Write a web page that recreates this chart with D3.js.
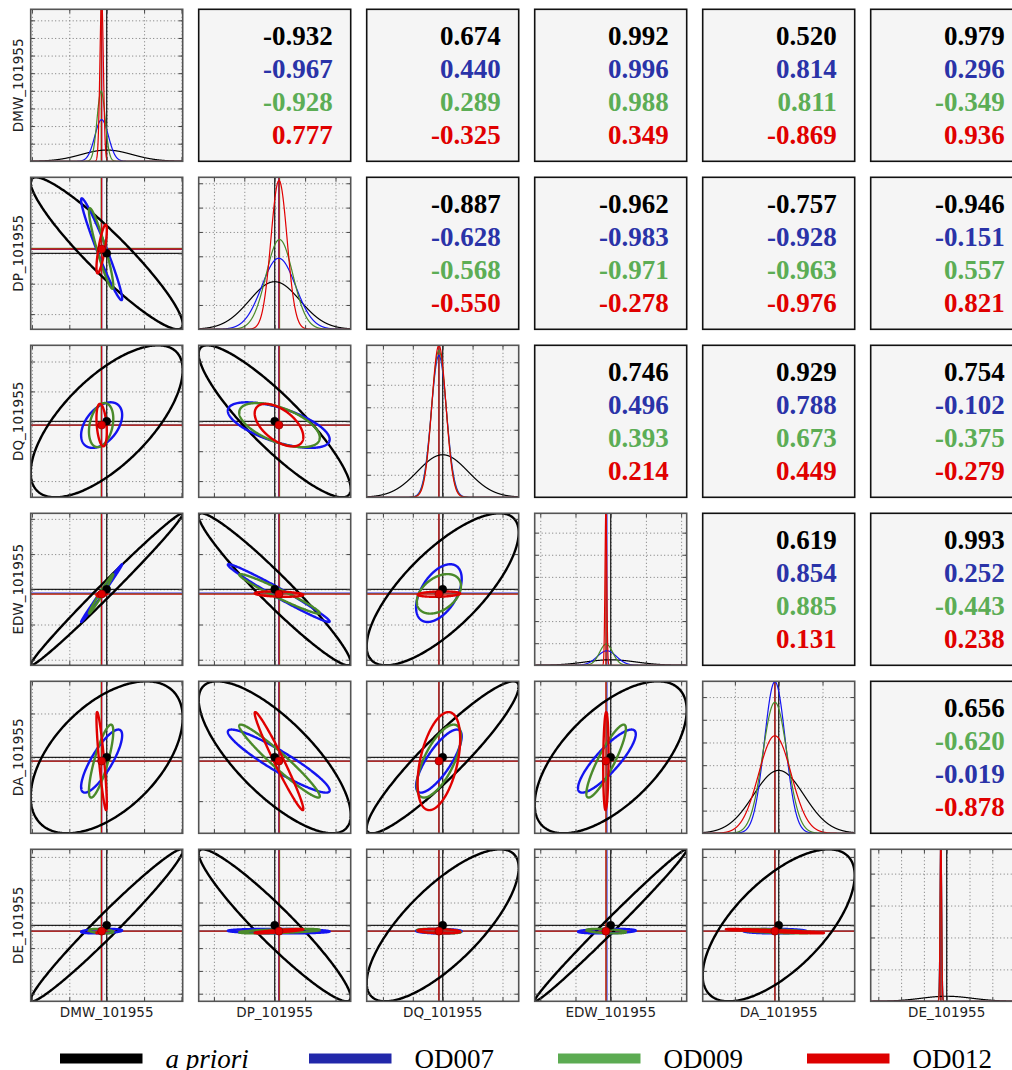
<!DOCTYPE html>
<html>
<head>
<meta charset="utf-8">
<script src="https://cdn.jsdelivr.net/npm/d3@7/dist/d3.min.js"></script>
<style>
    body { margin: 0; background: #fff; }
    .axis-label { font-family: "DejaVu Sans", sans-serif; font-size: 13.5px; fill: #222; }
    .corr-text { font-family: "Liberation Serif", serif; font-size: 27px; font-weight: bold; }
    .legend-text { font-family: "Liberation Serif", serif; font-size: 27px; fill: #000; }
</style>
</head>
<body>
<svg id="chart" width="1012" height="1070"></svg>
<script>
// Parameters and series
const params = ['DMW_101955', 'DP_101955', 'DQ_101955', 'EDW_101955', 'DA_101955', 'DE_101955'];
const seriesNames = ['a priori', 'OD007', 'OD009', 'OD012'];
const curveColors = ['#000000', '#1414f0', '#4a8a2a', '#e00000'];
const textColors = ['#000000', '#2a33a8', '#5cad55', '#e00000'];
const legendColors = ['#000000', '#2228aa', '#5cab52', '#dd0000'];
const showDot = [true, false, false, true];

// Means, in units of the a priori sigma (a priori centred on 0)
const meanApriori = [0, 0, 0, 0, 0, 0];
const meanOD007 = [-0.20, 0.16, -0.15, -0.15, -0.15, -0.23];
const meanOD009 = [-0.22, 0.19, -0.15, -0.18, -0.15, -0.23];
const meanOD012 = [-0.20, 0.17, -0.15, -0.19, -0.15, -0.23];

// Sigmas, in units of the a priori sigma
const sigmaApriori = [1, 1, 1, 1, 1, 1];
const sigmaOD007 = [0.27, 0.67, 0.30, 0.38, 0.415, 0.030];
const sigmaOD009 = [0.16, 0.53, 0.29, 0.26, 0.48, 0.030];
const sigmaOD012 = [0.068, 0.32, 0.28, 0.035, 0.645, 0.028];

// Correlations, pairs ordered (0,1),(0,2),...,(0,5),(1,2),...,(4,5)
const corrApriori = [-0.932, 0.674, 0.992, 0.520, 0.979, -0.887, -0.962, -0.757, -0.946, 0.746, 0.929, 0.754, 0.619, 0.993, 0.656];
const corrOD007 = [-0.967, 0.440, 0.996, 0.814, 0.296, -0.628, -0.983, -0.928, -0.151, 0.496, 0.788, -0.102, 0.854, 0.252, -0.019];
const corrOD009 = [-0.928, 0.289, 0.988, 0.811, -0.349, -0.568, -0.971, -0.963, 0.557, 0.393, 0.673, -0.375, 0.885, -0.443, -0.620];
const corrOD012 = [0.777, -0.325, 0.349, -0.869, 0.936, -0.550, -0.278, -0.976, 0.821, 0.214, 0.449, -0.279, 0.131, 0.238, -0.878];

// The DA/DE cell lists OD009 before OD007
const labelOrderDefault = [0, 1, 2, 3];
const labelOrderDAxDE = [0, 2, 1, 3];

// Tick spacing per parameter (a priori sigma units), diagonal y ranges
const tickStep = [1.476, 1.2, 1.18, 1.39, 1.73, 0.9];
const diagYMax = [5.4, 1.274, 1.425, 11, 0.964, 12];
const diagYStep = [0.626, 0.204, 0.211, 1.6, 0.144, 2.52];

// Layout
const size = 152, step = 168, left0 = 30.7, top0 = 9.3;
const nSigma = 3;

const means = [meanApriori, meanOD007, meanOD009, meanOD012];
const sigmas = [sigmaApriori, sigmaOD007, sigmaOD009, sigmaOD012];
const corrs = [corrApriori, corrOD007, corrOD009, corrOD012];

const pairIndex = {};
let k = 0;
params.forEach((_, i) => params.forEach((_, j) => { if (j > i) pairIndex[i + '-' + j] = k++; }));

const svg = d3.select('#chart');
const defs = svg.append('defs');

function ticksFor(s, max) {
    return d3.range(Math.ceil(-max / s), Math.floor(max / s) + 1)
        .map(v => v * s)
        .filter(v => Math.abs(v) < max * 0.99);
}

// Background, grid and clip for a plot panel
function panelBase(g, id, x, y, xt, yt) {
    defs.append('clipPath').attr('id', id)
        .append('rect').attr('width', size).attr('height', size);

    g.append('rect').attr('width', size).attr('height', size).attr('fill', '#f5f5f5');

    const grid = g.append('g').attr('class', 'grid');
    grid.append('g').attr('transform', `translate(0,${size})`)
        .call(d3.axisBottom(x).tickValues(xt).tickSize(-size).tickFormat(''));
    grid.append('g')
        .call(d3.axisLeft(y).tickValues(yt).tickSize(-size).tickFormat(''));
    grid.selectAll('.domain').remove();
    grid.selectAll('line')
        .attr('stroke', '#777')
        .attr('stroke-width', 1)
        .attr('stroke-dasharray', '1,2.5');

    return g.append('g').attr('clip-path', `url(#${id})`);
}

function panelFrame(g, x, y, xt, yt) {
    const t = g.append('g');
    t.append('g').attr('transform', `translate(0,${size})`)
        .call(d3.axisBottom(x).tickValues(xt).tickSize(-4).tickFormat(''));
    t.append('g')
        .call(d3.axisTop(x).tickValues(xt).tickSize(-4).tickFormat(''));
    t.append('g')
        .call(d3.axisLeft(y).tickValues(yt).tickSize(-4).tickFormat(''));
    t.append('g').attr('transform', `translate(${size},0)`)
        .call(d3.axisRight(y).tickValues(yt).tickSize(-4).tickFormat(''));
    t.selectAll('.domain').remove();
    t.selectAll('line').attr('stroke', '#444').attr('stroke-width', 1);

    g.append('rect').attr('width', size).attr('height', size)
        .attr('fill', 'none').attr('stroke', '#555').attr('stroke-width', 1.6);
}

// Lower triangle: 3-sigma ellipses
function drawPair(g, r, c) {
    const x = d3.scaleLinear().domain([-nSigma, nSigma]).range([0, size]);
    const y = d3.scaleLinear().domain([-nSigma, nSigma]).range([size, 0]);
    const xt = ticksFor(tickStep[c], nSigma);
    const yt = ticksFor(tickStep[r], nSigma);
    const body = panelBase(g, `clip-${r}-${c}`, x, y, xt, yt);

    means.forEach((m, s) => {
        body.append('line')
            .attr('x1', x(m[c])).attr('x2', x(m[c])).attr('y1', 0).attr('y2', size)
            .attr('stroke', curveColors[s]).attr('stroke-width', 1.3).attr('opacity', 0.85);
        body.append('line')
            .attr('x1', 0).attr('x2', size).attr('y1', y(m[r])).attr('y2', y(m[r]))
            .attr('stroke', curveColors[s]).attr('stroke-width', 1.3).attr('opacity', 0.85);
    });

    const idx = pairIndex[c + '-' + r];
    const line = d3.line().x(d => x(d[0])).y(d => y(d[1])).curve(d3.curveLinearClosed);
    const angles = d3.range(0, 2 * Math.PI, Math.PI / 180);

    means.forEach((m, s) => {
        const rho = corrs[s][idx];
        const sx = sigmas[s][c], sy = sigmas[s][r];
        const pts = angles.map(t => [
            m[c] + nSigma * sx * Math.cos(t),
            m[r] + nSigma * sy * (rho * Math.cos(t) + Math.sqrt(1 - rho * rho) * Math.sin(t))
        ]);
        body.append('path').attr('d', line(pts))
            .attr('fill', 'none').attr('stroke', curveColors[s]).attr('stroke-width', 2.4);
    });

    means.forEach((m, s) => {
        if (!showDot[s]) return;
        body.append('circle').attr('cx', x(m[c])).attr('cy', y(m[r])).attr('r', 4)
            .attr('fill', curveColors[s])
            .attr('stroke', s === 0 ? '#000' : '#700').attr('stroke-width', 0.6);
    });

    panelFrame(g, x, y, xt, yt);
}

// Diagonal: 1D gaussians
function drawDiag(g, i) {
    const x = d3.scaleLinear().domain([-nSigma, nSigma]).range([0, size]);
    const y = d3.scaleLinear().domain([0, diagYMax[i]]).range([size, 0]);
    const xt = ticksFor(tickStep[i], nSigma);
    const yt = d3.range(diagYStep[i], diagYMax[i] * 0.995, diagYStep[i]);
    const body = panelBase(g, `clip-${i}-${i}`, x, y, xt, yt);

    means.forEach((m, s) => {
        body.append('line')
            .attr('x1', x(m[i])).attr('x2', x(m[i])).attr('y1', 0).attr('y2', size)
            .attr('stroke', curveColors[s]).attr('stroke-width', 1.3).attr('opacity', 0.85);
    });

    const line = d3.line().x(d => x(d[0])).y(d => y(d[1]));
    const xs = d3.range(-nSigma, nSigma + 0.0001, 0.004);
    means.forEach((m, s) => {
        const sd = sigmas[s][i];
        const pts = xs.map(v => [v, Math.exp(-0.5 * ((v - m[i]) / sd) ** 2) / (sd * Math.sqrt(2 * Math.PI))]);
        body.append('path').attr('d', line(pts))
            .attr('fill', 'none').attr('stroke', curveColors[s]).attr('stroke-width', 1.2);
    });

    panelFrame(g, x, y, xt, yt);
}

// Upper triangle: correlation coefficients
function drawTextBox(g, r, c) {
    g.append('rect').attr('width', size).attr('height', size)
        .attr('fill', '#f5f5f5').attr('stroke', '#111').attr('stroke-width', 1.6);
    const idx = pairIndex[r + '-' + c];
    const order = (r === 4 && c === 5) ? labelOrderDAxDE : labelOrderDefault;
    const lineY = d3.scaleLinear().domain([0, 3]).range([35.3, 135]);
    order.forEach((s, n) => {
        g.append('text').attr('class', 'corr-text')
            .attr('x', size - 18).attr('y', lineY(n))
            .attr('text-anchor', 'end')
            .attr('fill', textColors[s])
            .text(corrs[s][idx].toFixed(3));
    });
}

params.forEach((_, r) => {
    params.forEach((_, c) => {
        const g = svg.append('g')
            .attr('transform', `translate(${left0 + c * step},${top0 + r * step})`);
        if (c > r) drawTextBox(g, r, c);
        else if (c === r) drawDiag(g, r);
        else drawPair(g, r, c);
    });
});

// Axis labels
params.forEach((p, i) => {
    svg.append('text').attr('class', 'axis-label')
        .attr('x', left0 + i * step + size / 2).attr('y', 1016.5)
        .attr('text-anchor', 'middle').text(p);
    svg.append('text').attr('class', 'axis-label')
        .attr('transform', `translate(22.5,${top0 + i * step + size / 2}) rotate(-90)`)
        .attr('text-anchor', 'middle').text(p);
});

// Legend
const legendX = d3.scaleLinear().domain([0, 3]).range([60, 807]);
seriesNames.forEach((name, s) => {
    svg.append('rect')
        .attr('x', legendX(s)).attr('y', 1053.5)
        .attr('width', 82.5).attr('height', 10)
        .attr('fill', legendColors[s]);
    svg.append('text').attr('class', 'legend-text')
        .attr('x', legendX(s) + 105.5).attr('y', 1068)
        .style('font-style', s === 0 ? 'italic' : 'normal')
        .text(name);
});
</script>
</body>
</html>
